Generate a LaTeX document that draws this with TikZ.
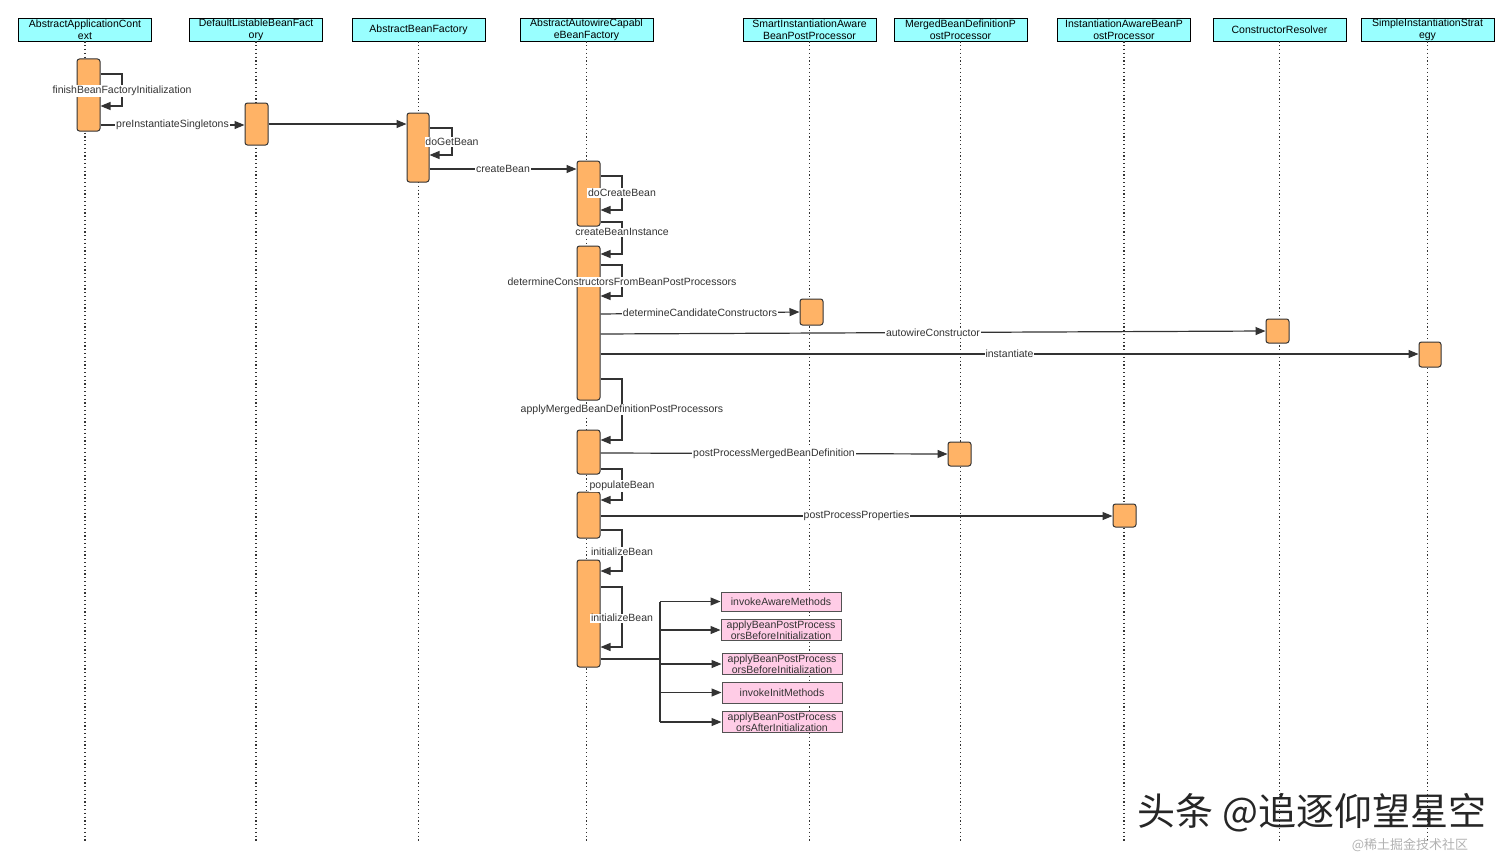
\documentclass[tikz,border=0pt]{standalone}
\usepackage{fontspec}
\setmainfont{Liberation Sans}
\newfontfamily\cjk{Noto Sans CJK SC}
\usetikzlibrary{arrows.meta}
\definecolor{hdrfill}{RGB}{153,255,255}
\definecolor{actfill}{RGB}{255,179,102}
\definecolor{pinkfill}{RGB}{255,204,230}
\definecolor{linec}{RGB}{51,51,51}
\tikzset{
  hdr/.style={draw=black, fill=hdrfill, line width=0.8pt, minimum width=133pt, minimum height=23pt, inner sep=0pt, align=center, font=\fontsize{10.5}{12}\selectfont},
  act/.style={draw=linec, fill=actfill, line width=1pt, rounded corners=2.5pt, minimum width=23pt, inner sep=0pt},
  life/.style={draw=linec, line width=1.2pt, dash pattern=on 1.2pt off 2.6pt},
  msg/.style={draw=linec, line width=1.2pt, -{Triangle[length=10pt,width=8pt]}},
  lnk/.style={draw=linec, line width=1.2pt},
  lbl/.style={fill=white, inner sep=0.8pt, text=linec, font=\fontsize{10.5}{11.5}\selectfont},
  pk/.style={draw=linec!85, fill=pinkfill, line width=1pt, minimum width=120pt, minimum height=21pt, inner sep=0pt, align=center, text=linec, font=\fontsize{10.5}{11.5}\selectfont},
}
\begin{document}
\begin{tikzpicture}[x=1pt,y=-1pt]
\useasboundingbox[fill=white] (0,0) rectangle (1512,859);
% headers
\node[hdr] (h1) at (85,29.5) {AbstractApplicationCont\\ext};
\node[hdr] (h2) at (256,29.5) {DefaultListableBeanFact\\ory};
\node[hdr] (h3) at (418.5,29.5) {AbstractBeanFactory};
\node[hdr] (h4) at (586.5,29.5) {AbstractAutowireCapabl\\eBeanFactory};
\node[hdr] (h5) at (809.5,29.5) {SmartInstantiationAware\\BeanPostProcessor};
\node[hdr] (h6) at (960.5,29.5) {MergedBeanDefinitionP\\ostProcessor};
\node[hdr] (h7) at (1124,29.5) {InstantiationAwareBeanP\\ostProcessor};
\node[hdr] (h8) at (1279.5,29.5) {ConstructorResolver};
\node[hdr] (h9) at (1427.5,29.5) {SimpleInstantiationStrat\\egy};
% lifelines
\foreach \h in {h1,h2,h3,h4,h5,h6,h7,h8,h9}
  \draw[life] (\h.south) -- ++(0,800);
% activations
\node[act, minimum height=72pt] (a1) at (88.5,95) {};
\node[act, minimum height=42pt] (a2) at (256.5,124) {};
\node[act, minimum width=22pt, minimum height=69pt] (a3) at (418,147.5) {};
\node[act, minimum height=65pt] (a4) at (588.5,193.5) {};
\node[act, minimum height=154pt] (a5) at (588.5,323) {};
\node[act, minimum height=26pt] (a6) at (811.5,312) {};
\node[act, minimum height=24pt] (a7) at (1277.5,331) {};
\node[act, minimum width=22pt, minimum height=25pt] (a8) at (1430,354.5) {};
\node[act, minimum height=44pt] (a9) at (588.5,452) {};
\node[act, minimum height=24pt] (a10) at (959.5,454) {};
\node[act, minimum height=46pt] (a11) at (588.5,515) {};
\node[act, minimum height=23pt] (a12) at (1124.5,515.5) {};
\node[act, minimum height=107pt] (a13) at (588.5,613.5) {};
% pink boxes
\node[pk, minimum height=19pt] (p1) at (781,601.5) {invokeAwareMethods};
\node[pk] (p2) at (781,630) {applyBeanPostProcess\\orsBeforeInitialization};
\node[pk] (p3) at (782,664) {applyBeanPostProcess\\orsBeforeInitialization};
\node[pk] (p4) at (782,692.5) {invokeInitMethods};
\node[pk] (p5) at (782,722) {applyBeanPostProcess\\orsAfterInitialization};
% self calls
\draw[msg] (a1.east |- 0,74) -- (122,74) -- (122,106) node[lbl, pos=0.53] {finishBeanFactoryInitialization} -- (a1.east |- 0,106);
\draw[msg] (a3.east |- 0,128) -- (452,128) -- (452,155) node[lbl, pos=0.52] {doGetBean} -- (a3.east |- 0,155);
\draw[msg] (a4.east |- 0,176) -- (622,176) -- (622,210) node[lbl, midway] {doCreateBean} -- (a4.east |- 0,210);
\draw[msg] (a4.east |- 0,222) -- (622,222) -- (622,254) node[lbl, pos=0.32] {createBeanInstance} -- (a5.east |- 0,254);
\draw[msg] (a5.east |- 0,265) -- (622,265) -- (622,296) node[lbl, pos=0.55] {determineConstructorsFromBeanPostProcessors} -- (a5.east |- 0,296);
\draw[msg] (a5.east |- 0,379) -- (622,379) -- (622,440) node[lbl, midway] {applyMergedBeanDefinitionPostProcessors} -- (a9.east |- 0,440);
\draw[msg] (a9.east |- 0,469) -- (622,469) -- (622,500) node[lbl, pos=0.55] {populateBean} -- (a11.east |- 0,500);
\draw[msg] (a11.east |- 0,530) -- (622,530) -- (622,571) node[lbl, pos=0.53] {initializeBean} -- (a13.east |- 0,571);
\draw[msg] (a13.east |- 0,587) -- (622,587) -- (622,647) node[lbl, pos=0.52] {initializeBean} -- (a13.east |- 0,647);
% messages
\draw[msg] (a1.east |- 0,125) -- node[lbl] {preInstantiateSingletons} (a2.west |- 0,125);
\draw[msg] (a2.east |- 0,124) -- (a3.west |- 0,124);
\draw[msg] (a3.east |- 0,169) -- node[lbl] {createBean} (a4.west |- 0,169);
\draw[msg] (a5.east |- 0,314) -- node[lbl] {determineCandidateConstructors} (a6.west |- 0,312);
\draw[msg] (a5.east |- 0,334) -- node[lbl, pos=0.5] {autowireConstructor} (a7.west |- 0,331);
\draw[msg] (a5.east |- 0,354) -- node[lbl, pos=0.5] {instantiate} (a8.west |- 0,354);
\draw[msg] (a9.east |- 0,453) -- node[lbl] {postProcessMergedBeanDefinition} (a10.west |- 0,454);
\draw[msg] (a11.east |- 0,516) -- node[lbl] {postProcessProperties} (a12.west |- 0,516);
% fan-out
\coordinate (fan) at (660,659);
\draw[lnk, line width=2.2pt] (a13.east |- fan) -- (fan);
\draw[lnk] (fan |- p1.west) -- (fan |- p5.west);
\foreach \p in {p1,p2,p3,p4,p5}
  \draw[msg] (fan |- \p.west) -- (\p.west);
% watermark
\node[text=black!85, inner sep=0pt] (wm) at (1312,813) {\cjk\fontsize{38}{38}\selectfont 头条 @追逐仰望星空};
\node[text=black!30, inner sep=0pt, anchor=north] (wm2) at (1410,838) {\cjk\fontsize{13}{13}\selectfont @稀土掘金技术社区};
\end{tikzpicture}
\end{document}
